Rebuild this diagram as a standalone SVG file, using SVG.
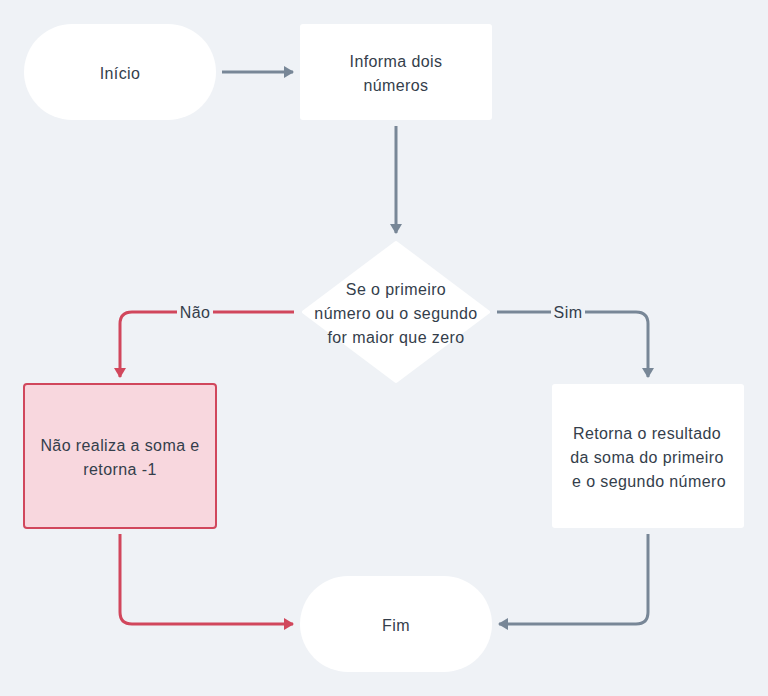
<svg xmlns="http://www.w3.org/2000/svg" width="768" height="696" viewBox="0 0 768 696">
<style>
.bg{fill:#eff2f6}
.node{fill:#ffffff}
.red{fill:#f8d7de;stroke:#d1475c;stroke-width:2}
.t{font-family:"Liberation Sans",Arial,sans-serif;font-size:16px;letter-spacing:0.4px;fill:#343e4b;text-anchor:middle}
.c{fill:none;stroke:#788797;stroke-width:3}
.cr{fill:none;stroke:#d1475c;stroke-width:3}
.lb{fill:#eff2f6}
</style>
<defs>
<marker id="ag" markerWidth="10" markerHeight="12" refX="9" refY="6" orient="auto" markerUnits="userSpaceOnUse"><path d="M0,0 L10,6 L0,12 Z" fill="#788797"/></marker>
<marker id="ar" markerWidth="10" markerHeight="12" refX="9" refY="6" orient="auto" markerUnits="userSpaceOnUse"><path d="M0,0 L10,6 L0,12 Z" fill="#d1475c"/></marker>
</defs>
<rect class="bg" x="0" y="0" width="768" height="696"/>
<g id="connectors">
<path class="c" d="M222,72 H293" marker-end="url(#ag)"/>
<path class="c" d="M396,126 V233" marker-end="url(#ag)"/>
<path class="c" d="M497,312 H636 Q648,312 648,324 V377" marker-end="url(#ag)"/>
<path class="cr" d="M294,312 H132 Q120,312 120,324 V377" marker-end="url(#ar)"/>
<path class="cr" d="M120,534 V612 Q120,624 132,624 H293" marker-end="url(#ar)"/>
<path class="c" d="M648,534 V612 Q648,624 636,624 H499" marker-end="url(#ag)"/>
<rect class="lb" x="177" y="300" width="36" height="24"/>
<text class="t" x="195" y="318">Não</text>
<rect class="lb" x="551" y="300" width="34" height="24"/>
<text class="t" x="568" y="318">Sim</text>
</g>
<g id="inicio">
<rect class="node" x="24" y="24" width="192" height="96" rx="48" ry="48"/>
<text class="t" x="120" y="79">Início</text>
</g>
<g id="informa">
<rect class="node" x="300" y="24" width="192" height="96" rx="3"/>
<text class="t" x="396" y="67">Informa dois</text>
<text class="t" x="396" y="91">números</text>
</g>
<g id="decisao">
<polygon class="node" points="396,243 488,312 396,381 304,312" stroke="#ffffff" stroke-width="4" stroke-linejoin="round"/>
<text class="t" x="396" y="295">Se o primeiro</text>
<text class="t" x="396" y="319">número ou o segundo</text>
<text class="t" x="396" y="343">for maior que zero</text>
</g>
<g id="nao">
<rect class="red" x="24" y="384" width="192" height="144" rx="3"/>
<text class="t" x="120" y="451">Não realiza a soma e</text>
<text class="t" x="120" y="475">retorna -1</text>
</g>
<g id="sim">
<rect class="node" x="552" y="384" width="192" height="144" rx="3"/>
<text class="t" x="647" y="439">Retorna o resultado</text>
<text class="t" x="647" y="463">da soma do primeiro</text>
<text class="t" x="649" y="487">e o segundo número</text>
</g>
<g id="fim">
<rect class="node" x="300" y="576" width="192" height="96" rx="48" ry="48"/>
<text class="t" x="396" y="631">Fim</text>
</g>
</svg>
